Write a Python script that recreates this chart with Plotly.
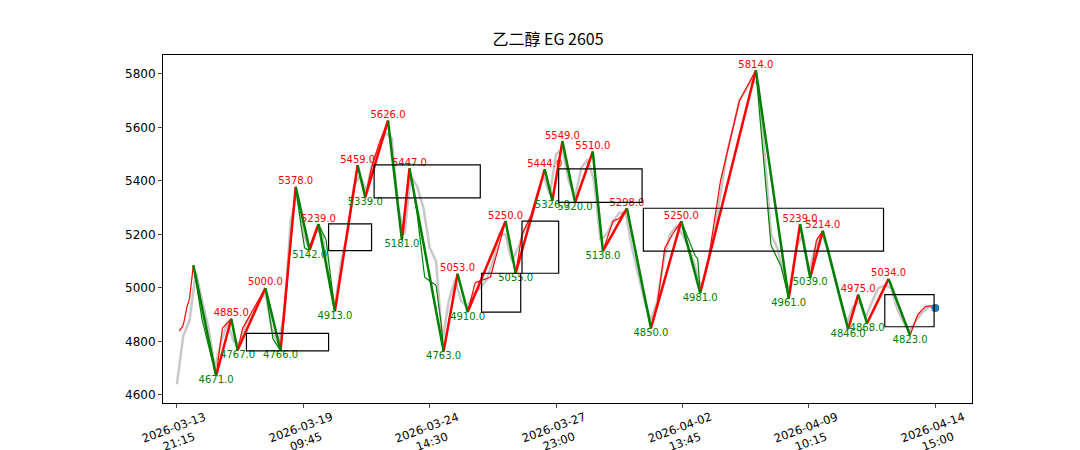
import plotly.graph_objects as go

# gray price, every 5 bars from index 0 to 600
price_step = 5
price = [4640,4820,4880,5060,4950,4850,4700,4800,4870,4800,4790,4870,4900,4950,4980,4850,4790,4900,5250,5350,
         5200,5150,5220,5200,5050,4930,5100,5200,5380,5420,5360,5480,5520,5580,5560,5300,5200,5420,5380,5300,
         5150,5100,4800,4950,5030,4950,4930,4980,5000,5030,5100,5200,5200,5100,5150,5220,5250,5350,5420,5350,
         5500,5520,5400,5340,5450,5480,5400,5180,5200,5250,5280,5280,5150,5050,4950,4880,4950,5100,5200,5230,
         5200,5150,5080,5000,5100,5200,5350,5500,5600,5700,5740,5780,5760,5500,5200,5150,5050,4980,5150,5200,
         5060,5150,5200,5150,5050,4950,4870,4930,4950,4890,4950,5000,5010,5000,4920,4870,4840,4880,4910,4930,4925]

# main zigzag pivots
piv_idx = [13,31,43,48,70,82,94,105,112,125,143,149,167,178,184,211,222,230,260,268,291,297,305,315,329,337,356,375,399,414,458,484,493,501,511,531,539,546,563,580]
piv_val = [5085,4671,4885,4767,5000,4766,5378,5142,5239,4913,5459,5339,5626,5181,5447,4763,5053,4910,5250,5055,5444,5326,5549,5320,5510,5138,5298,4850,5250,4981,5814,4961,5239,5039,5214,4846,4975,4868,5034,4823]
labeled = [False] + [True]*39

# fine zigzag
fine_idx = [2,5,8,10,13,20,31,36,43,48,52,58,70,76,82,86,90,94,98,101,104,112,118,125,143,149,154,160,167,178,184,190,196,205,209,211,222,230,236,248,260,268,273,280,291,297,305,315,329,337,345,350,356,375,380,386,392,399,410,412,414,420,430,440,445,458,470,478,484,493,501,506,511,531,539,546,563,580,586,592,600]
fine_val = [4840,4860,4930,4960,5085,4880,4671,4850,4885,4767,4850,4900,5000,4810,4766,4950,5180,5378,5240,5150,5142,5239,5180,4913,5459,5339,5450,5540,5626,5181,5447,5280,5040,5010,4870,4763,5053,4910,5020,5040,5250,5055,5200,5270,5444,5326,5549,5320,5510,5138,5250,5260,5298,4850,4940,5150,5200,5250,5120,5110,4981,5090,5400,5600,5700,5814,5160,5080,4961,5239,5039,5180,5214,4846,4975,4868,5034,4823,4900,4930,4935]

# zones: x0, x1, y0, y1
zone_x0 = [55,120,156,241,273,302,369,560]
zone_x1 = [120,154,240,272,302,368,559,599]
zone_y0 = [4765,5140,5337,4910,5055,5320,5138,4855]
zone_y1 = [4830,5240,5460,5055,5250,5445,5298,4975]

tick_idx = [0,100,200,300,400,500,600]
tick_txt = ["2026-03-13<br>21:15","2026-03-19<br>09:45","2026-03-24<br>14:30","2026-03-27<br>23:00",
            "2026-04-02<br>13:45","2026-04-09<br>10:15","2026-04-14<br>15:00"]
last_idx, last_val = 600, 4925

fig = go.Figure()
fig.add_trace(go.Scatter(x=[i*price_step for i in range(len(price))], y=price, mode="lines",
                         line=dict(color="#c8c8c8", width=2.5), hoverinfo="skip"))

def split(xs, ys):
    ux, uy, dx, dy = [], [], [], []
    for i in range(len(xs)-1):
        if ys[i+1] >= ys[i]:
            ux += [xs[i], xs[i+1], None]; uy += [ys[i], ys[i+1], None]
        else:
            dx += [xs[i], xs[i+1], None]; dy += [ys[i], ys[i+1], None]
    return ux, uy, dx, dy

ux, uy, dx, dy = split(fine_idx, fine_val)
fig.add_trace(go.Scatter(x=ux, y=uy, mode="lines", line=dict(color="red", width=1.2)))
fig.add_trace(go.Scatter(x=dx, y=dy, mode="lines", line=dict(color="green", width=1.2)))
ux, uy, dx, dy = split(piv_idx, piv_val)
fig.add_trace(go.Scatter(x=ux, y=uy, mode="lines", line=dict(color="red", width=2.5)))
fig.add_trace(go.Scatter(x=dx, y=dy, mode="lines", line=dict(color="green", width=2.5)))

hx, hy, lx, ly = [], [], [], []
for k in range(len(piv_idx)):
    if not labeled[k]:
        continue
    prev = piv_val[k-1] if k > 0 else piv_val[k+1]
    if piv_val[k] > prev:
        hx.append(piv_idx[k]); hy.append(piv_val[k])
    else:
        lx.append(piv_idx[k]); ly.append(piv_val[k])
fig.add_trace(go.Scatter(x=hx, y=hy, mode="text", text=[f"{v:.1f}" for v in hy], textposition="top center",
                         textfont=dict(color="red", size=10, family="DejaVu Sans")))
fig.add_trace(go.Scatter(x=lx, y=ly, mode="text", text=[f"{v:.1f}" for v in ly], textposition="bottom center",
                         textfont=dict(color="green", size=10, family="DejaVu Sans")))
fig.add_trace(go.Scatter(x=[last_idx], y=[last_val], mode="markers", marker=dict(color="#1f77b4", size=8)))

for a, b, c, d in zip(zone_x0, zone_x1, zone_y0, zone_y1):
    fig.add_shape(type="rect", x0=a, x1=b, y0=c, y1=d, line=dict(color="black", width=1.2))

for t, s in zip(tick_idx, tick_txt):
    fig.add_annotation(x=t, xref="x", y=0, yref="paper", yanchor="top", xanchor="center", yshift=-4,
                       text=s, showarrow=False, textangle=-20, font=dict(size=11.5, family="DejaVu Sans"))

fig.update_layout(width=1080, height=450, showlegend=False, plot_bgcolor="white", paper_bgcolor="white",
                  margin=dict(l=155, r=116, t=47, b=55, autoexpand=False),
                  font=dict(family="DejaVu Sans", size=12, color="black"),
                  title=dict(text="乙二醇 EG 2605", x=0.5, xanchor="center", y=0.93, yanchor="middle",
                             font=dict(size=16, family="Noto Sans CJK SC")))
fig.update_xaxes(range=[-11, 629], tickvals=tick_idx, showticklabels=False, showgrid=False, automargin=False,
                 showline=True, linecolor="black", mirror=True, ticks="outside", ticklen=4, zeroline=False)
fig.update_yaxes(range=[4570, 5871], tickvals=[4600,4800,5000,5200,5400,5600,5800], showgrid=False,
                 automargin=False,
                 showline=True, linecolor="black", mirror=True, ticks="outside", ticklen=4, zeroline=False)
fig.write_html("out.html")
